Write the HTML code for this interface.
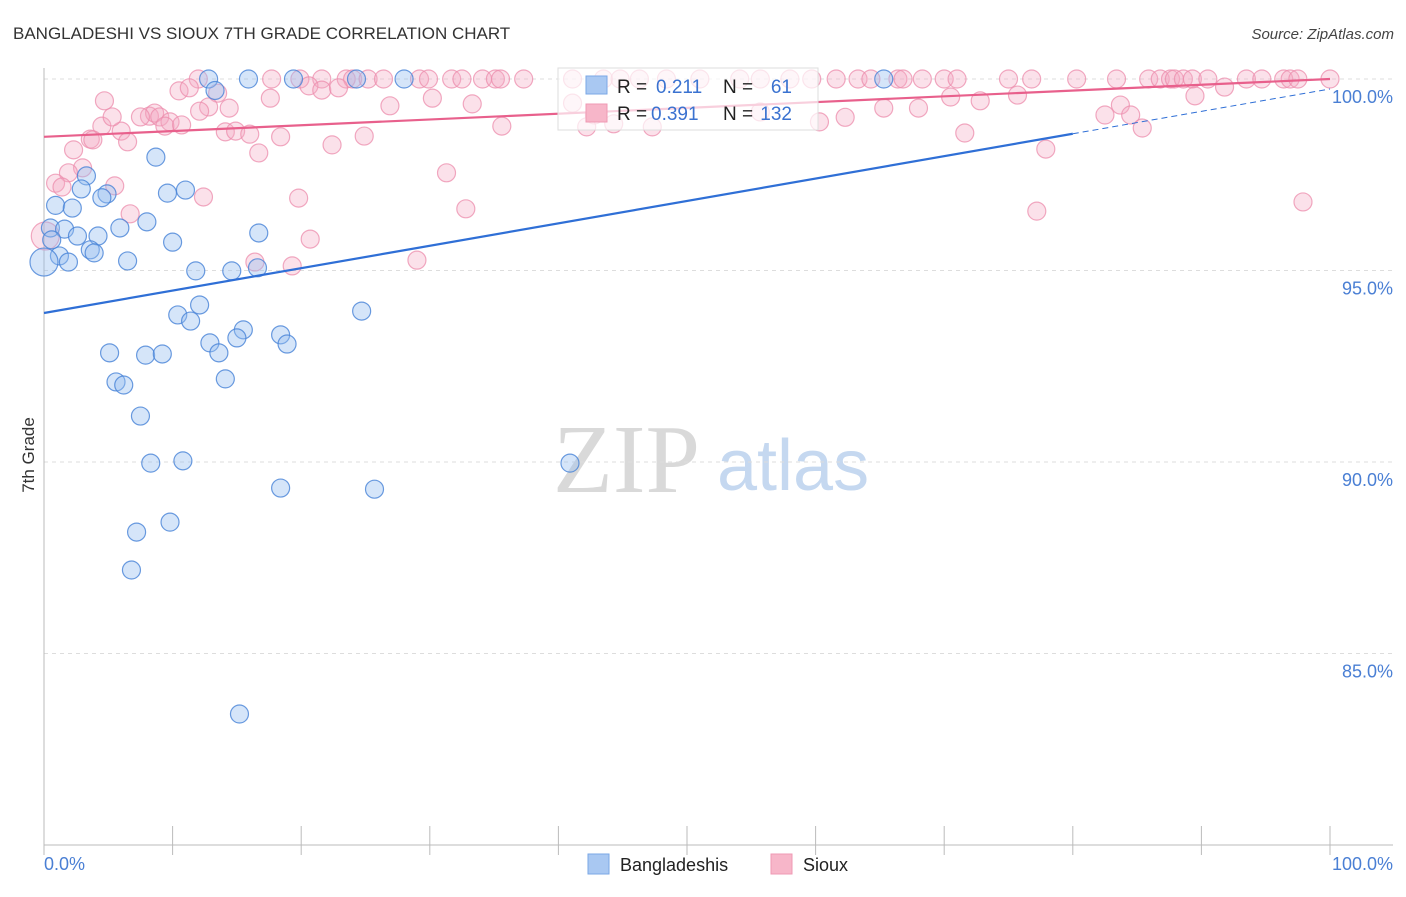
<!DOCTYPE html>
<html><head><meta charset="utf-8"><style>
body{margin:0;background:#fff;font-family:"Liberation Sans",sans-serif}
svg text{font-family:"Liberation Sans",sans-serif}
</style></head><body>
<svg id="chart" width="1406" height="892" viewBox="0 0 1406 892" xmlns="http://www.w3.org/2000/svg">
<text x="13" y="39" font-size="17" fill="#333">BANGLADESHI VS SIOUX 7TH GRADE CORRELATION CHART</text>
<text x="1394" y="39" font-size="15" fill="#444" font-style="italic" text-anchor="end">Source: ZipAtlas.com</text>
<g>
<text x="553" y="492" font-size="98" fill="#d9d9d9" font-family="Liberation Serif, serif" style="font-family:'Liberation Serif',serif">ZIP</text>
<text x="717" y="490" font-size="72" fill="#c5d8f0">atlas</text>
</g>
<g id="grid"></g>
<g id="axes"></g>
<g id="pts"></g>
<g id="lines"></g>
<text transform="translate(34,455) rotate(-90)" font-size="17" fill="#333" text-anchor="middle">7th Grade</text>
<g>
<rect x="558" y="68" width="260" height="62" fill="#fff" fill-opacity="0.7" stroke="#ddd"/>
<rect x="586" y="76" width="21" height="18" fill="#a9c8f2" stroke="#7aa7e6"/>
<rect x="586" y="104" width="21" height="18" fill="#f7b6c9" stroke="#ef99b4"/>
<text x="617" y="93" font-size="19" fill="#222">R = </text><text x="656" y="93" font-size="19" fill="#3a72d0">0.211</text>
<text x="723" y="93" font-size="19" fill="#222">N = </text><text x="792" y="93" font-size="19" fill="#3a72d0" text-anchor="end">61</text>
<text x="617" y="120" font-size="19" fill="#222">R = </text><text x="651" y="120" font-size="19" fill="#3a72d0">0.391</text>
<text x="723" y="120" font-size="19" fill="#222">N = </text><text x="792" y="120" font-size="19" fill="#3a72d0" text-anchor="end">132</text>
</g>
<g>
<rect x="588" y="854" width="21" height="20" fill="#a9c8f2" stroke="#7aa7e6"/>
<text x="620" y="871" font-size="18" fill="#222">Bangladeshis</text>
<rect x="771" y="854" width="21" height="20" fill="#f7b6c9" stroke="#ef99b4"/>
<text x="803" y="871" font-size="18" fill="#222">Sioux</text>
</g>
</svg>
<script>
const yTicks=[100,95,90,85];
const yTickLabels=["100.0%","95.0%","90.0%","85.0%"];
const xTickCount=10;
const blueX=[12.8,15.9,19.4,24.3,28.0,65.3,13.3,8.7,3.3,2.9,9.6,11.0,4.9,4.5,0.9,2.2,8.0,5.9,0.5,1.6,2.6,4.2,16.7,10.0,3.6,3.9,1.2,1.9,6.5,0,11.8,14.6,16.6,24.7,12.1,10.4,11.4,15.5,15.0,18.4,12.9,18.9,5.1,7.9,9.2,13.6,5.6,6.2,14.1,7.5,8.3,10.8,40.9,18.4,25.7,9.8,7.2,6.8,15.2,0.6];
const blueY=[100,100,100,100,100,100,99.7,97.96,97.47,97.13,97.02,97.1,97.0,96.9,96.7,96.63,96.27,96.11,96.11,96.08,95.9,95.9,95.98,95.74,95.54,95.46,95.38,95.22,95.25,95.22,94.99,94.99,95.07,93.94,94.1,93.84,93.68,93.45,93.24,93.32,93.11,93.08,92.85,92.79,92.82,92.85,92.09,92.01,92.17,91.2,89.97,90.03,89.97,89.32,89.29,88.43,88.17,87.18,83.42,95.8];
const pinkTopX=[12.0,17.7,19.9,21.6,23.5,24.0,25.2,26.4,29.2,29.9,31.7,32.5,34.1,35.1,35.5,37.3,41.1,43.5,44.8,46.3,48.4,51.0,54.1,55.7,58.0,59.7,61.6,63.3,64.3,66.4,66.8,68.3,70.0,71.0,75.0,76.8,80.3,83.4,85.9,86.8,87.6,87.9,88.6,89.3,90.5,93.5,94.7,96.4,96.9,97.5,100];
const pinkX=[4.7,10.5,13.5,17.6,20.6,21.6,22.9,26.9,30.2,33.3,41.1,42.8,55.7,70.5,72.8,75.7,83.7,91.8,89.5,82.5,84.5,65.3,68.0,62.3,60.3,47.3,44.3,42.2,35.6,4.5,6.0,8.2,8.6,7.5,9.0,9.8,9.4,10.7,12.8,14.4,12.1,3.6,3.8,6.5,14.1,14.9,16.0,18.4,24.9,22.4,16.7,2.3,3.0,1.9,0.9,1.4,5.5,12.4,19.8,31.3,32.8,6.7,77.2,97.9,71.6,85.4,77.9,20.7,0.1,16.4,19.3,29.0,11.3,5.3];
const pinkY=[99.43,99.69,99.63,99.5,99.82,99.71,99.77,99.3,99.5,99.35,99.37,99.06,99.14,99.53,99.43,99.58,99.32,99.79,99.56,99.06,99.06,99.24,99.24,99.0,98.88,98.75,98.83,98.75,98.77,98.77,98.64,99.03,99.11,99.01,99.01,98.88,98.77,98.8,99.27,99.24,99.16,98.43,98.41,98.36,98.62,98.64,98.56,98.49,98.51,98.28,98.07,98.15,97.68,97.55,97.28,97.18,97.21,96.92,96.89,97.55,96.61,96.48,96.55,96.79,98.59,98.72,98.17,95.82,95.9,95.22,95.12,95.27,99.77,99.01];
const blueTrend=[93.89,99.74];
const blueSolidEnd=80;
const pinkTrend=[98.49,100];

const NS="http://www.w3.org/2000/svg";
const X0=44,X1=1330,Y100=79,PX1=38.3;
const sx=v=>X0+(X1-X0)*v/100;
const sy=v=>Y100+(100-v)*PX1;
function mk(tag,attrs,parent){const e=document.createElementNS(NS,tag);for(const k in attrs)e.setAttribute(k,attrs[k]);parent.appendChild(e);return e;}
const grid=document.getElementById('grid'),axes=document.getElementById('axes'),pts=document.getElementById('pts'),lines=document.getElementById('lines');
yTicks.forEach((t,i)=>{
  const g=mk('line',{x1:44,x2:1393,y1:sy(t),y2:sy(t),stroke:'#ddd','stroke-dasharray':'4,4'},grid);
  
  
  const tx=mk('text',{x:1393,y:sy(t)+24,'font-size':18,fill:'#4a7fd4','text-anchor':'end'},axes);
  tx.textContent=yTickLabels[i];
  
  
});
const ya=mk('line',{x1:44,x2:44,y1:68,y2:845,stroke:'#bbb'},axes);


const xa=mk('line',{x1:44,x2:1393,y1:845,y2:845,stroke:'#bbb'},axes);


for(let i=0;i<=xTickCount;i++){
  const t=mk('line',{x1:sx(i*100/xTickCount),x2:sx(i*100/xTickCount),y1:826,y2:855,stroke:'#bbb'},axes);
  
  
}
const xl0=mk('text',{x:44,y:870,'font-size':18,fill:'#4a7fd4'},axes);xl0.textContent='0.0%';


const xl1=mk('text',{x:1393,y:870,'font-size':18,fill:'#4a7fd4','text-anchor':'end'},axes);xl1.textContent='100.0%';


function dot(x,y,big,c){
  const r=big?14:9;
  const e=mk('circle',{cx:sx(x),cy:sy(y),r:r,fill:c[0],stroke:c[1],'stroke-width':1.2},pts);
  return e;
}
const PC=['rgba(244,168,194,0.35)','rgba(236,140,172,0.75)'];
const BC=['rgba(150,190,240,0.4)','rgba(70,130,215,0.8)'];
pinkTopX.forEach(x=>{const e=dot(x,100,false,PC);
  
  });
pinkX.forEach((x,i)=>{const e=dot(x,pinkY[i],x<0.5,PC);
  
  });
blueX.forEach((x,i)=>{const e=dot(x,blueY[i],x<0.3,BC);
  
  });
const by=x=>blueTrend[0]+(blueTrend[1]-blueTrend[0])*x/100;
const l1=mk('line',{x1:sx(0),y1:sy(by(0)),x2:sx(blueSolidEnd),y2:sy(by(blueSolidEnd)),stroke:'#2f6fd6','stroke-width':2.2},lines);


const l2=mk('line',{x1:sx(blueSolidEnd),y1:sy(by(blueSolidEnd)),x2:sx(100),y2:sy(by(100)),stroke:'#2f6fd6','stroke-width':1,'stroke-dasharray':'6,4'},lines);


const l3=mk('line',{x1:sx(0),y1:sy(pinkTrend[0]),x2:sx(100),y2:sy(pinkTrend[1]),stroke:'#e8608c','stroke-width':2.2},lines);


</script>
</body></html>
